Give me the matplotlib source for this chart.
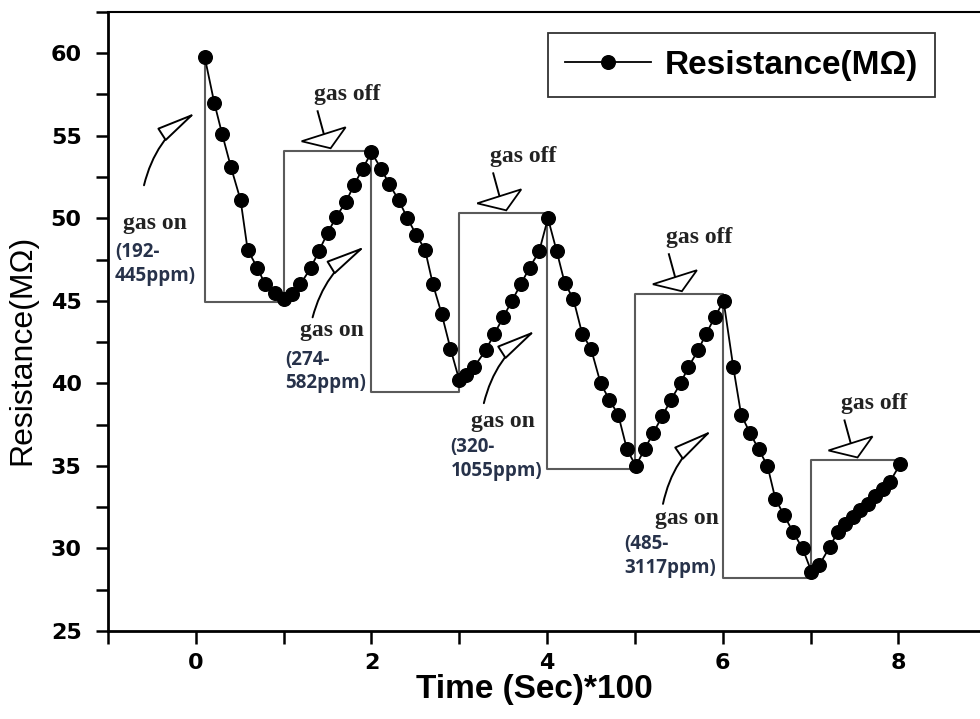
import matplotlib
matplotlib.use('Agg')
import matplotlib.pyplot as plt
import matplotlib.transforms as mtransforms
from matplotlib.patches import Polygon
from matplotlib.ticker import MultipleLocator, FuncFormatter

# resistance response, one row per gas on / gas off half cycle
time = [0.10, 0.21, 0.30, 0.40, 0.51, 0.59, 0.70, 0.79, 0.90, 1.00,
        1.10, 1.19, 1.31, 1.40, 1.50, 1.60, 1.71, 1.80, 1.90, 2.00,
        2.11, 2.20, 2.31, 2.41, 2.51, 2.61, 2.70, 2.80, 2.90, 3.00,
        3.08, 3.17, 3.30, 3.40, 3.50, 3.60, 3.70, 3.80, 3.91, 4.01,
        4.11, 4.20, 4.30, 4.40, 4.50, 4.61, 4.71, 4.81, 4.91, 5.01,
        5.11, 5.21, 5.31, 5.41, 5.52, 5.61, 5.72, 5.81, 5.91, 6.01,
        6.12, 6.21, 6.31, 6.41, 6.51, 6.60, 6.70, 6.80, 6.91, 7.01,
        7.10, 7.22, 7.31, 7.39, 7.48, 7.56, 7.65, 7.73, 7.82, 7.90, 8.02]
resistance = [59.8, 57.0, 55.1, 53.1, 51.1, 48.1, 47.0, 46.0, 45.5, 45.1,
              45.4, 46.0, 47.0, 48.0, 49.1, 50.1, 51.0, 52.0, 53.0, 54.0,
              53.0, 52.1, 51.1, 50.0, 49.0, 48.1, 46.0, 44.2, 42.1, 40.2,
              40.5, 41.0, 42.0, 43.0, 44.0, 45.0, 46.0, 47.0, 48.0, 50.0,
              48.0, 46.1, 45.1, 43.0, 42.1, 40.0, 39.0, 38.1, 36.0, 35.0,
              36.0, 37.0, 38.0, 39.0, 40.0, 41.0, 42.0, 43.0, 44.0, 45.0,
              41.0, 38.1, 37.0, 36.0, 35.0, 33.0, 32.0, 31.0, 30.0, 28.6,
              29.0, 30.1, 31.0, 31.5, 31.9, 32.3, 32.7, 33.2, 33.6, 34.0, 35.1]

# gas switching instants and the indicator level held between them
switch_t = [0.1, 1.0, 2.0, 3.0, 4.0, 5.0, 6.0, 7.0, 8.06]
switch_level = [44.9, 54.06, 39.45, 50.3, 34.8, 45.4, 28.2, 35.33]

# gas on labels: concentration range, text anchors and curved arrows
gas_on_ranges = ["(192-\n445ppm)", "(274-\n582ppm)", "(320-\n1055ppm)", "(485-\n3117ppm)"]
gas_on_text_xy = [(-0.47, 49.7), (1.55, 43.2), (3.50, 37.7), (5.59, 31.8)]
range_text_xy = [(-0.92, 48.55), (1.02, 42.05), (2.90, 36.75), (4.88, 30.85)]
arrow_tail = [(-0.59, 52.0), (1.33, 44.0), (3.28, 38.8), (5.32, 32.7)]
arrow_tip = [(0.0, 56.4), (1.93, 48.3), (3.87, 43.2), (5.88, 37.15)]

fig = plt.figure(figsize=(9.8, 7.19), dpi=100)
ax = fig.add_axes([0.1102, 0.1224, 0.8898, 0.861])

# gas on/off indicator trace
step_x = [switch_t[0]]
step_y = [resistance[0]]
for i, lev in enumerate(switch_level):
    step_x += [switch_t[i], switch_t[i + 1]]
    step_y += [lev, lev]
ax.plot(step_x, step_y, color='#5a5a5a', lw=1.5, zorder=1)

ax.plot(time, resistance, '-o', color='black', lw=1.3, ms=9.8, zorder=3,
        label='Resistance(MΩ)')

ax.set_xlim(-1, 8.93)
ax.set_ylim(25, 62.5)
ax.xaxis.set_major_locator(MultipleLocator(2))
ax.xaxis.set_minor_locator(MultipleLocator(1))
ax.yaxis.set_major_locator(MultipleLocator(5))
ax.yaxis.set_minor_locator(MultipleLocator(2.5))
ax.xaxis.set_major_formatter(FuncFormatter(lambda v, p: '%d' % v))
ax.yaxis.set_major_formatter(FuncFormatter(lambda v, p: '%d' % v))
ax.tick_params(which='both', direction='out', length=9, width=1.8,
               top=False, right=False)
ax.tick_params(axis='x', pad=7)
ax.tick_params(axis='y', pad=10)
plt.setp(ax.get_xticklabels() + ax.get_yticklabels(),
         fontweight='bold', family='DejaVu Sans', fontsize=16)

ax.spines['right'].set_visible(False)
ax.spines['left'].set_linewidth(2)
ax.spines['bottom'].set_linewidth(2)
ax.spines['top'].set_linewidth(1.5)

ax.set_xlabel('Time (Sec)*100', fontsize=24, fontweight='bold',
              family='Liberation Sans')
ax.xaxis.set_label_coords(0.4885, -0.095)
ax.xaxis.label.set_verticalalignment('center')
ax.set_ylabel('Resistance(MΩ)', fontsize=23, family='Liberation Sans')
ax.yaxis.set_label_coords(-0.081, 0.454)

# gas on annotations
for txt_xy, rng, rng_xy, tail, tip in zip(gas_on_text_xy, gas_on_ranges,
                                          range_text_xy, arrow_tail, arrow_tip):
    ax.text(*txt_xy, 'gas on', ha='center', va='center', fontsize=17,
            fontweight='bold', family='Liberation Serif', color='#222222')
    ax.text(*rng_xy, rng, ha='left', va='top', fontsize=13.5, fontweight='bold',
            family='Open Sans', color='#27324a', linespacing=1.25)
    ax.annotate('', xy=tip, xytext=tail,
                arrowprops=dict(arrowstyle='-|>,head_length=1.4,head_width=0.27',
                                connectionstyle='arc3,rad=-0.2', lw=1.4,
                                fc='white', ec='black', shrinkA=0, shrinkB=0,
                                mutation_scale=18))

# gas off callouts, drawn in pixel offsets from the top-left corner of each off period
for i in range(1, len(switch_level), 2):
    tr = mtransforms.Affine2D() + mtransforms.ScaledTranslation(
        switch_t[i], switch_level[i], ax.transData)
    ax.add_patch(Polygon([(18, 10), (62, 24), (47, 3)], closed=True, fc='white',
                         ec='black', lw=1.3, transform=tr, clip_on=False, zorder=4))
    ax.plot([34, 40], [40, 18], color='black', lw=1.4, transform=tr,
            clip_on=False, zorder=4)
    ax.text(64, 57, 'gas off', transform=tr, ha='center', va='center',
            fontsize=17, fontweight='bold', family='Liberation Serif',
            color='#222222')

leg = ax.legend(loc='upper right', bbox_to_anchor=(0.948, 0.966), fancybox=False,
                borderaxespad=0, handlelength=2.6, borderpad=0.5, handletextpad=0.4,
                prop={'size': 24, 'weight': 'bold', 'family': 'Liberation Sans'})
leg.get_frame().set_edgecolor('black')
leg.get_frame().set_linewidth(1.3)

fig.savefig('out.png', dpi=100)
